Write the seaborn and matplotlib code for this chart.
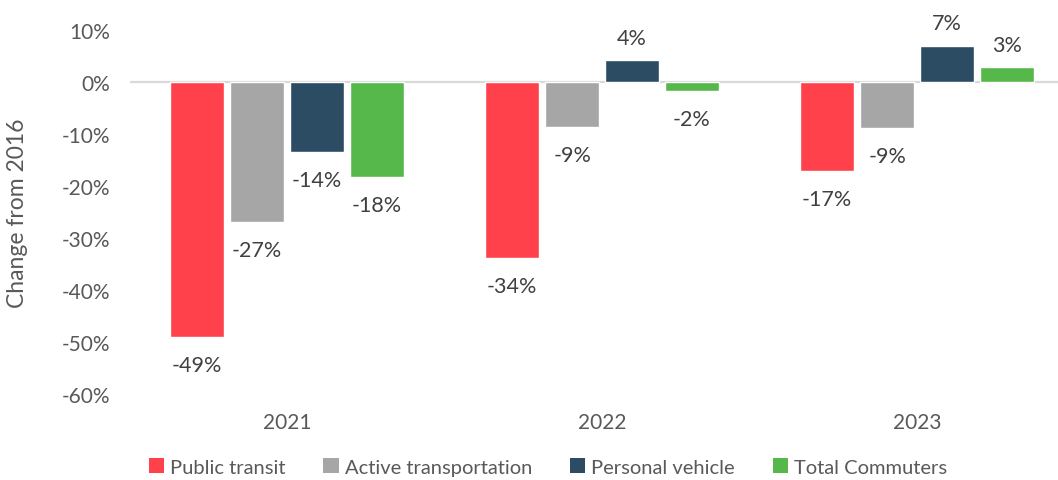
import matplotlib
matplotlib.use("Agg")
import matplotlib.pyplot as plt
import seaborn as sns
import pandas as pd
from matplotlib.ticker import FuncFormatter
from matplotlib.patches import Patch

years = ["2021", "2022", "2023"]
series = ["Public transit", "Active transportation", "Personal vehicle", "Total Commuters"]
public_transit = [-49.1, -33.8, -17.1]
active_transportation = [-26.9, -8.7, -8.8]
personal_vehicle = [-13.5, 4.2, 7.0]
total_commuters = [-18.3, -1.7, 2.9]
labels = {
    "Public transit": ["-49%", "-34%", "-17%"],
    "Active transportation": ["-27%", "-9%", "-9%"],
    "Personal vehicle": ["-14%", "4%", "7%"],
    "Total Commuters": ["-18%", "-2%", "3%"],
}
colors = ["#FF414B", "#A6A6A6", "#2B4C63", "#56B84A"]

values = [public_transit, active_transportation, personal_vehicle, total_commuters]
rows = []
for s, vals in zip(series, values):
    for y, v in zip(years, vals):
        rows.append({"year": y, "series": s, "value": v})
df = pd.DataFrame(rows)

sns.set_theme(style="white")
plt.rcParams["font.family"] = ["Lato", "DejaVu Sans"]
text_color = "#595959"

fig = plt.figure(figsize=(10.58, 4.81), dpi=100)
ax = fig.add_axes([129.5 / 1058, 1 - 395 / 481, 945 / 1058, (395 - 31) / 481])

sns.barplot(data=df, x="year", y="value", hue="series", order=years, hue_order=series,
            palette=dict(zip(series, colors)), width=0.76, gap=0.1, ax=ax,
            legend=False, saturation=1, errorbar=None)

ax.set_ylim(-60, 10)
ax.set_xlim(-0.5, 2.5)
ax.set_yticks(range(-60, 11, 10))
ax.yaxis.set_major_formatter(FuncFormatter(lambda v, p: f"{int(v)}%"))
ax.axhline(0, color="#D9D9D9", lw=1.6, zorder=0.5)
for sp in ax.spines.values():
    sp.set_visible(False)
ax.grid(False)
ax.tick_params(axis="y", length=0, pad=14, labelsize=15, labelcolor=text_color)
ax.tick_params(axis="x", length=0, pad=13, labelsize=15, labelcolor=text_color)
ax.set_xlabel("")
ax.set_ylabel("Change from 2016", fontsize=16.5, color=text_color)
ax.yaxis.set_label_coords(-(129.5 - 28) / 945, 0.5)

for container, s in zip(ax.containers, series):
    for bar, lab in zip(container, labels[s]):
        h = bar.get_height()
        x = bar.get_x() + bar.get_width() / 2
        off = -20 if h < 0 else 16
        ax.annotate(lab, (x, h), xytext=(0, off), textcoords="offset points",
                    ha="center", va="center", fontsize=15.5, color="#404040")

handles = [Patch(facecolor=c, edgecolor="none") for c in colors]
fig.legend(handles, series, loc="center", bbox_to_anchor=(548 / 1058, 1 - 468 / 481),
           ncol=4, frameon=False, fontsize=14.5, handlelength=0.75, handleheight=0.75,
           handletextpad=0.3, columnspacing=1.9, labelcolor=text_color)

fig.savefig("out.png", dpi=100)
